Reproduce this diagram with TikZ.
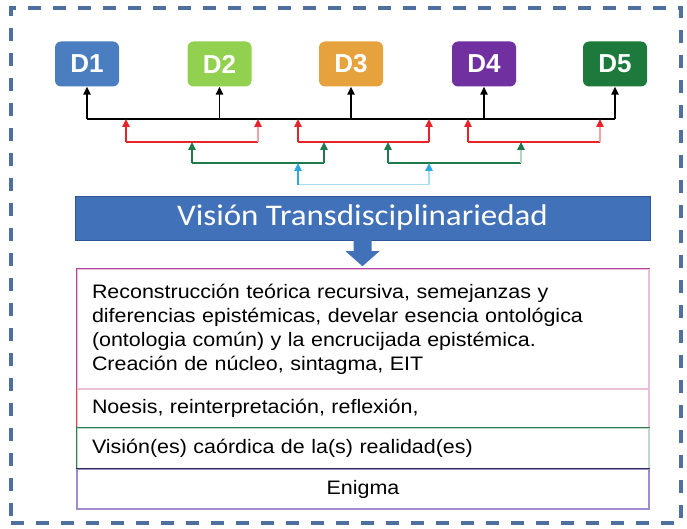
\documentclass[tikz,border=0pt]{standalone}
\usepackage{fontspec}
\setmainfont{Liberation Sans}
\newfontfamily\bannerfont[FakeStretch=1.1]{Carlito}
\newfontfamily\tablefont[FakeStretch=1.1]{Liberation Sans}
\usetikzlibrary{arrows.meta,positioning,calc}
\definecolor{framegray}{HTML}{4F6F9F}
\definecolor{dblue}{HTML}{4A7EC0}
\definecolor{dlime}{HTML}{92D050}
\definecolor{dorange}{HTML}{E6A23C}
\definecolor{dpurple}{HTML}{7030A0}
\definecolor{dgreen}{HTML}{1D7A3C}
\definecolor{bannerblue}{HTML}{4171B8}
\definecolor{bannerdark}{HTML}{2F5597}
\definecolor{linkred}{HTML}{E8242A}
\definecolor{linkpink}{HTML}{F5A3A8}
\definecolor{linkgreen}{HTML}{1E7A4A}
\definecolor{linklgreen}{HTML}{B5D5C0}
\definecolor{linkcyan}{HTML}{2AAAE0}
\definecolor{linklcyan}{HTML}{A8DDF0}
\definecolor{rowmag}{HTML}{B0479E}
\definecolor{rowlmag}{HTML}{E8C0DC}
\definecolor{rowred}{HTML}{E0453A}
\definecolor{rowgreen}{HTML}{2E7D52}
\definecolor{rowlgreen}{HTML}{C0D8C8}
\definecolor{rownavy}{HTML}{2B2D55}
\definecolor{rowlav}{HTML}{A08CD0}

\begin{document}
\begin{tikzpicture}[x=1pt, y=-1pt,
    frame/.style={draw=framegray, line width=4pt, dash pattern=on 13pt off 12pt},
    disc/.style={fill=#1, rounded corners=6pt, minimum width=64pt, minimum height=45pt,
                 text=white, font=\fontsize{26}{26}\selectfont\bfseries},
    banner/.style={fill=bannerblue, draw=bannerdark, minimum width=575pt, minimum height=44pt,
                   text=white, font=\bannerfont\fontsize{30}{30}\selectfont},
    rowbox/.style={draw=#1, line width=1.2pt, minimum width=572pt, text width=542pt,
                   font=\tablefont\fontsize{19.5}{24}\selectfont},
    rowedge/.style={draw=#1, line width=1.5pt},
    link/.style={line width=1.4pt},
    tip/.style={-{Triangle[length=8pt,width=7.5pt,color=#1]}}
]
\useasboundingbox (0,0) rectangle (687,529);

% --- outer dashed frame ---
\node[frame, minimum width=670pt, minimum height=515pt] (frame) at (346,265.5) {};

% --- disciplines ---
\node[disc=dblue]   (d1) at (87,64)    {D1};
\node[disc=dlime]   (d2) at (219.5,64) {D2};
\node[disc=dorange] (d3) at (351,64)   {D3};
\node[disc=dpurple] (d4) at (484,64)   {D4};
\node[disc=dgreen]  (d5) at (615,64)   {D5};

% --- black level ---
\coordinate (bl) at (87,119);
\coordinate (br) at (615,119);
\draw[link] (bl) -- (br);
\foreach \i in {1,...,5}
  \draw[link, tip=black] (d\i |- bl) -- (d\i.south);

% --- red level ---
\coordinate (rl) at (0,142);
\foreach \n/\a/\b/\c in {1/126/258/linkpink, 2/298/429/linkred, 3/468/600/linkpink} {
  \coordinate (r\n a) at (\a,142);
  \coordinate (r\n b) at (\b,142);
  \draw[link, linkred] (r\n a) -- (r\n b);
  \draw[link, linkred, tip=linkred] (r\n a) -- (r\n a |- bl);
  \draw[link, \c, tip=linkred] (r\n b) -- (r\n b |- bl);
}

% --- green level ---
\coordinate (gl) at (0,163);
\foreach \n/\a/\b/\c in {1/192/324/linkgreen, 2/388/521/linklgreen} {
  \coordinate (g\n a) at (\a,163);
  \coordinate (g\n b) at (\b,163);
  \draw[link, linkgreen] (g\n a) -- (g\n b);
  \draw[link, linkgreen, tip=linkgreen] (g\n a) -- (g\n a |- rl);
  \draw[link, \c, tip=linkgreen] (g\n b) -- (g\n b |- rl);
}

% --- cyan level ---
\coordinate (ca) at (298,185);
\coordinate (cb) at (429,185);
\draw[line width=1pt, linklcyan] (ca) -- (cb);
\draw[link, linkcyan, tip=linkcyan] (ca) -- (ca |- gl);
\draw[link, linklcyan, tip=linkcyan] (cb) -- (cb |- gl);

% --- banner with arrow ---
\node[banner] (ban) at (362.5,218) {Visión Transdisciplinariedad};
\fill[bannerblue] ($(ban.south)+(-9,-1)$) -- ++(0,12) -- ++(-8,0)
  -- ($(ban.south)+(0,26)$) -- ($(ban.south)+(17,11)$) -- ++(-8,0) -- ++(0,-12) -- cycle;

% --- levels table ---
\node[rowbox=rowlmag, minimum height=120pt, align=left] (row1) at (363,329)
  {Reconstrucción teórica recursiva, semejanzas y\\
   diferencias epistémicas, develar esencia ontológica\\
   (ontologia común) y la encrucijada epistémica.\\
   Creación de núcleo, sintagma, EIT};
\node[rowbox=rowlmag, minimum height=39pt, align=left] (row2) at (363,408.5)
  {Noesis, reinterpretación, reflexión,};
\node[rowbox=rowlgreen, minimum height=41pt, align=left] (row3) at (363,448.5)
  {Visión(es) caórdica de la(s) realidad(es)};
\node[rowbox=rowlav, minimum height=40pt, align=center] (row4) at (363,489)
  {Enigma};

\draw[rowedge=rowmag] (row1.south west) -- (row1.north west) -- (row1.north east);
\draw[rowedge=rowred] (row2.south west) -- (row2.north west);
\draw[rowedge=rowgreen] (row3.south west) -- (row3.north west) -- (row3.north east);
\draw[rowedge=rowlav] (row4.south west) -- (row4.north west);
\draw[rowedge=rownavy] (row4.north west) -- (row4.north east);

\end{tikzpicture}
\end{document}
